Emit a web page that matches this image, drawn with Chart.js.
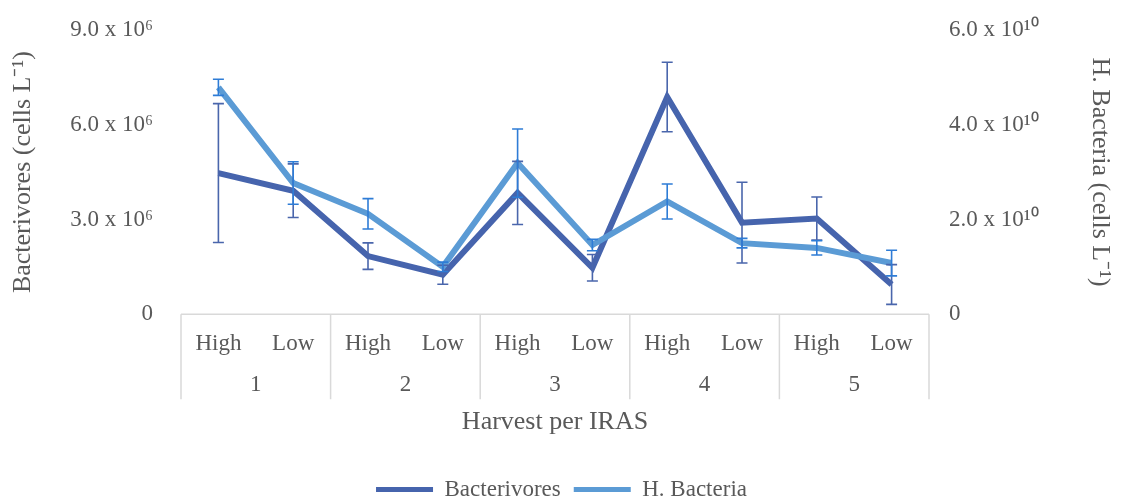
<!DOCTYPE html>
<html>
<head>
<meta charset="utf-8">
<script src="https://cdn.jsdelivr.net/npm/chart.js@4.4.0/dist/chart.umd.min.js"></script>
<style>
  html, body { margin: 0; padding: 0; background: #fff; }
  #wrap { width: 1122px; height: 501px; }
</style>
</head>
<body>
<div id="wrap"><canvas id="chart"></canvas></div>
<script>
// data
const categories = ['High', 'Low', 'High', 'Low', 'High', 'Low', 'High', 'Low', 'High', 'Low'];
const harvests = ['1', '2', '3', '4', '5'];
const bacterivores = [4.47e6, 3.91e6, 1.84e6, 1.25e6, 3.84e6, 1.47e6, 6.88e6, 2.90e6, 3.03e6, 0.94e6];
const bacterivoresErr = [2.2e6, 0.85e6, 0.42e6, 0.3e6, 1.0e6, 0.42e6, 1.1e6, 1.28e6, 0.68e6, 0.63e6];
const bacteria = [4.79e10, 2.77e10, 2.12e10, 1.0e10, 3.19e10, 1.46e10, 2.38e10, 1.5e10, 1.4e10, 1.08e10];
const bacteriaErr = [0.17e10, 0.45e10, 0.32e10, 0.1e10, 0.72e10, 0.12e10, 0.37e10, 0.1e10, 0.15e10, 0.27e10];
const leftTicks = [0, 3e6, 6e6, 9e6];
const rightTicks = [0, 2e10, 4e10, 6e10];

const textColor = '#595959';
const serif = "'Liberation Serif', 'Times New Roman', serif";

// formatters
const sup = { '0': '\u2070', '1': '\u00B9', '6': '\u2076' };
const sci = (value, exp) => value === 0 ? '0' :
  (value / Math.pow(10, exp)).toFixed(1) + ' x 10' + String(exp).split('').map(c => sup[c]).join('');

// error bars drawn through the y scales
const errorBars = {
  id: 'errorBars',
  afterDatasetsDraw(chart) {
    const ctx = chart.ctx;
    chart.data.datasets.forEach((ds, i) => {
      const meta = chart.getDatasetMeta(i);
      const ys = chart.scales[ds.yAxisID];
      ctx.save();
      ctx.strokeStyle = ds.errColor;
      ctx.lineWidth = 1.6;
      meta.data.forEach((pt, j) => {
        const v = ds.data[j], e = ds.errors[j];
        const top = ys.getPixelForValue(v + e);
        const bot = ys.getPixelForValue(Math.max(v - e, 0));
        ctx.beginPath();
        ctx.moveTo(pt.x, top); ctx.lineTo(pt.x, bot);
        ctx.moveTo(pt.x - 5.5, top); ctx.lineTo(pt.x + 5.5, top);
        ctx.moveTo(pt.x - 5.5, bot); ctx.lineTo(pt.x + 5.5, bot);
        ctx.stroke();
      });
      ctx.restore();
    });
  }
};

// grouped category box under the plot
const groupBox = {
  id: 'groupBox',
  afterDraw(chart) {
    const ctx = chart.ctx;
    const xs = chart.scales.x;
    const area = chart.chartArea;
    const y0 = area.bottom, y1 = area.bottom + 85;
    ctx.save();
    ctx.strokeStyle = '#d9d9d9';
    ctx.lineWidth = 1.5;
    ctx.beginPath();
    ctx.moveTo(area.left, y0); ctx.lineTo(area.right, y0);
    for (let g = 0; g <= harvests.length; g++) {
      let x;
      if (g === 0) x = area.left;
      else if (g === harvests.length) x = area.right;
      else x = (xs.getPixelForValue(g * 2 - 1) + xs.getPixelForValue(g * 2)) / 2;
      ctx.moveTo(x, y0); ctx.lineTo(x, y1);
    }
    ctx.stroke();
    ctx.fillStyle = textColor;
    ctx.font = '23px ' + serif;
    ctx.textAlign = 'center';
    ctx.textBaseline = 'middle';
    harvests.forEach((h, g) => {
      const x = (xs.getPixelForValue(g * 2) + xs.getPixelForValue(g * 2 + 1)) / 2;
      ctx.fillText(h, x, y0 + 71);
    });
    ctx.restore();
  }
};

// invisible tick marks keep the labels away from the plot without padding the top
const hiddenTicks = len => ({
  display: true, drawOnChartArea: false, drawTicks: true,
  tickLength: len, tickColor: 'rgba(0,0,0,0)', color: 'rgba(0,0,0,0)'
});

const ctx = document.getElementById('chart').getContext('2d');
const chart = new Chart(ctx, {
  type: 'line',
  data: {
    labels: categories,
    datasets: [
      {
        label: 'Bacterivores', data: bacterivores, errors: bacterivoresErr, yAxisID: 'y',
        borderColor: '#4664ad', backgroundColor: '#4664ad', errColor: '#4a66ac',
        borderWidth: 6, pointRadius: 0, tension: 0, order: 1
      },
      {
        label: 'H. Bacteria', data: bacteria, errors: bacteriaErr, yAxisID: 'y1',
        borderColor: '#5b9bd5', backgroundColor: '#5b9bd5', errColor: '#2e7cd6',
        borderWidth: 6, pointRadius: 0, tension: 0, order: 0
      }
    ]
  },
  options: {
    responsive: true,
    maintainAspectRatio: false,
    animation: false,
    layout: { padding: { top: 30, left: 6, right: 5, bottom: -10 } },
    plugins: {
      tooltip: { enabled: false },
      legend: {
        position: 'bottom',
        labels: {
          color: textColor,
          font: { family: serif, size: 23 },
          boxWidth: 57,
          boxHeight: 5,
          padding: 13,
          generateLabels: c => c.data.datasets.map((ds, i) => ({
            text: ds.label, fillStyle: ds.borderColor, strokeStyle: ds.borderColor,
            lineWidth: 0, datasetIndex: i, fontColor: textColor
          }))
        }
      }
    },
    scales: {
      x: {
        offset: true,
        grid: { display: false },
        border: { display: false },
        ticks: { color: textColor, font: { family: serif, size: 23 }, padding: 8, maxRotation: 0, autoSkip: false },
        title: {
          display: true, text: 'Harvest per IRAS', color: textColor,
          font: { family: serif, size: 26 }, padding: { top: 41, bottom: 27 }
        }
      },
      y: {
        position: 'left',
        min: 0, max: 9e6,
        afterBuildTicks: s => { s.ticks = leftTicks.map(v => ({ value: v })); },
        afterFit: s => { s.width = 175; },
        grid: hiddenTicks(28),
        border: { display: false },
        ticks: { color: textColor, font: { family: serif, size: 23 }, padding: 0, callback: v => sci(v, 6) },
        title: {
          display: true, text: 'Bacterivores (cells L\u207B\u00B9)', color: textColor,
          font: { family: serif, size: 26 }, padding: { top: 2, bottom: 0 }
        }
      },
      y1: {
        position: 'right',
        min: 0, max: 6e10,
        afterBuildTicks: s => { s.ticks = rightTicks.map(v => ({ value: v })); },
        afterFit: s => { s.width = 188; },
        grid: hiddenTicks(20),
        border: { display: false },
        ticks: { color: textColor, font: { family: serif, size: 23 }, padding: 0, callback: v => sci(v, 10) },
        title: {
          display: true, text: 'H. Bacteria (cells L\u207B\u00B9)', color: textColor,
          font: { family: serif, size: 26 }, padding: { top: 2, bottom: 0 }
        }
      }
    }
  },
  plugins: [errorBars, groupBox]
});
</script>
</body>
</html>
